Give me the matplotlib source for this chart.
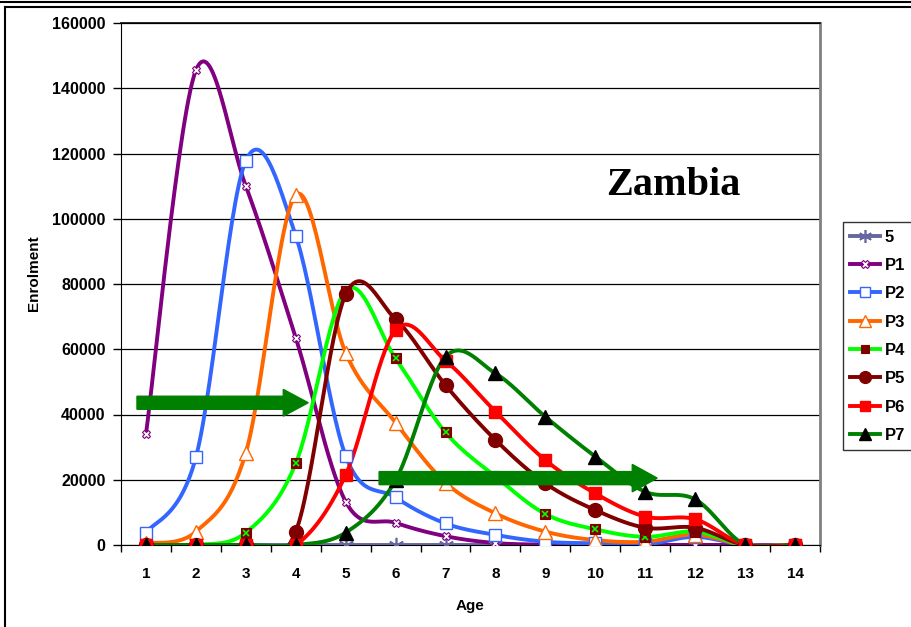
import numpy as np
import matplotlib
matplotlib.use("Agg")
import matplotlib.pyplot as plt
from matplotlib.patches import FancyArrow
from matplotlib.lines import Line2D

plt.rcParams['font.family'] = ['Liberation Sans', 'DejaVu Sans']

ages = np.arange(1, 15)
s5 = [0, 0, 0, 0, 0, 0, 0, 0, 0, 0, 0, 0, 0, 0]
p1 = [34000, 145500, 110000, 63500, 13300, 6800, 2700, 600, 100, 0, 0, 0, 0, 0]
p2 = [3700, 26900, 117800, 94800, 27300, 14600, 6600, 3100, 1000, 500, 200, 2500, 0, 0]
p3 = [500, 4100, 28300, 107300, 58900, 37500, 19100, 9700, 4100, 1500, 1000, 3200, 0, 0]
p4 = [0, 0, 3800, 25000, 78000, 57200, 34500, 21000, 9500, 4800, 2500, 4100, 0, 0]
p5 = [0, 0, 0, 4100, 76800, 69200, 49000, 32200, 18900, 10700, 5300, 5300, 0, 0]
p6 = [0, 0, 0, 0, 21500, 65900, 56500, 40900, 26000, 15800, 8700, 7900, 0, 0]
p7 = [0, 0, 0, 0, 3800, 19900, 57700, 52600, 39300, 27100, 16300, 14000, 0, 0]
labels = ['5', 'P1', 'P2', 'P3', 'P4', 'P5', 'P6', 'P7']
yticks = np.arange(0, 160001, 20000)


def smooth(x, y, n=30):
    # Excel-style bezier smoothing through the points
    x = np.asarray(x, float)
    y = np.asarray(y, float)
    px = np.concatenate([[x[0]], x, [x[-1]]])
    py = np.concatenate([[y[0]], y, [y[-1]]])
    xs, ys = [], []
    t = np.linspace(0, 1, n)
    for i in range(1, len(px) - 2):
        x0, x1, x2, x3 = px[i - 1], px[i], px[i + 1], px[i + 2]
        y0, y1, y2, y3 = py[i - 1], py[i], py[i + 1], py[i + 2]
        c1x, c1y = x1 + (x2 - x0) / 6, y1 + (y2 - y0) / 6
        c2x, c2y = x2 - (x3 - x1) / 6, y2 - (y3 - y1) / 6
        bx = (1 - t) ** 3 * x1 + 3 * (1 - t) ** 2 * t * c1x + 3 * (1 - t) * t ** 2 * c2x + t ** 3 * x2
        by = (1 - t) ** 3 * y1 + 3 * (1 - t) ** 2 * t * c1y + 3 * (1 - t) * t ** 2 * c2y + t ** 3 * y2
        xs.append(bx)
        ys.append(by)
    return np.concatenate(xs), np.concatenate(ys)


fig = plt.figure(figsize=(9.12, 6.27), dpi=100)
ax = fig.add_axes([121 / 912, 82 / 627, 699 / 912, 522 / 627])

styles = [
    dict(color='#6666A0', marker=(6, 2, 0), mfc='#6666A0', mec='#6666A0', ms=11, mew=1.2),
    dict(color='#800080', marker='X', mfc='white', mec='#800080', ms=6, mew=0.8),
    dict(color='#3366FF', marker='s', mfc='white', mec='#3366FF', ms=9, mew=1.0),
    dict(color='#FF6600', marker='^', mfc='white', mec='#FF6600', ms=10, mew=1.0),
    dict(color='#00FF00', marker='s', mfc='#800000', mec='#800000', ms=7, mew=0.8),
    dict(color='#800000', marker='o', mfc='#800000', mec='#800000', ms=10, mew=1.0),
    dict(color='#FF0000', marker='s', mfc='#FF0000', mec='#FF0000', ms=8, mew=1.0),
    dict(color='#008000', marker='^', mfc='black', mec='black', ms=10, mew=1.0),
]
series = [s5, p1, p2, p3, p4, p5, p6, p7]

handles = []
for vals, st, lab in zip(series, styles, labels):
    sx, sy = smooth(ages, vals)
    ax.plot(sx, sy, color=st['color'], lw=2.8, zorder=3, solid_capstyle='round')
    ax.plot(ages, vals, ls='none', marker=st['marker'], ms=st['ms'], mfc=st['mfc'],
            mec=st['mec'], mew=st['mew'], zorder=4)
    if lab == 'P4':
        ax.plot(ages, vals, ls='none', marker='x', ms=5, mec='#00FF00', mew=1.2, zorder=4)
    handles.append(Line2D([], [], color=st['color'], lw=2.8, marker=st['marker'], ms=st['ms'] * 0.85,
                          mfc=st['mfc'], mec=st['mec'], mew=st['mew']))

# arrows
ax.add_patch(FancyArrow(0.82, 43600, 3.43, 0, width=4000, head_width=8200, head_length=0.5,
                        length_includes_head=True, color='#008000', zorder=5))
ax.add_patch(FancyArrow(5.67, 20500, 5.57, 0, width=4000, head_width=8400, head_length=0.5,
                        length_includes_head=True, color='#008000', zorder=5))

ax.text(11.56, 107300, 'Zambia', family=['Liberation Serif', 'DejaVu Serif'], fontsize=29,
        fontweight='bold', ha='center', va='baseline')

ax.set_xlim(0.5, 14.5)
ax.set_ylim(0, 160000)
ax.set_yticks(yticks)
ax.set_yticklabels([str(v) for v in yticks], fontsize=11.5, fontweight='bold')
ax.set_xticks(np.arange(0.5, 14.6, 1))
ax.set_xticklabels([])
ax.set_xticks(ages, minor=True)
ax.set_xticklabels([str(a) for a in ages], minor=True, fontsize=11, fontweight='bold')
ax.tick_params(axis='x', which='major', direction='out', length=5, width=1)
ax.tick_params(axis='x', which='minor', length=0, pad=16)
ax.tick_params(axis='y', direction='out', length=6, width=1, pad=5)
ax.grid(axis='y', color='black', lw=0.9)
ax.set_axisbelow(True)
ax.spines['right'].set_color('#808080')
ax.spines['right'].set_linewidth(2)
ax.spines['top'].set_linewidth(1.2)
ax.set_xlabel('Age', fontsize=11, fontweight='bold', labelpad=13)
ax.set_ylabel('Enrolment', fontsize=11, fontweight='bold')
ax.yaxis.set_label_coords(-0.115, 0.52)

leg = fig.legend(handles, labels, loc='upper left', bbox_to_anchor=(843 / 912, 1 - 222 / 627),
                 prop=dict(weight='bold', size=12), frameon=True, fancybox=False,
                 handlelength=1.8, labelspacing=0.8, borderpad=0.45, handletextpad=0.25,
                 borderaxespad=0)
leg.get_frame().set_edgecolor('black')
leg.get_frame().set_linewidth(1)

# outer frame lines
fig.add_artist(Line2D([0, 1], [1 - 1.5 / 627, 1 - 1.5 / 627], color='black', lw=1.5))
fig.add_artist(Line2D([5 / 912, 1], [1 - 7 / 627, 1 - 7 / 627], color='black', lw=1.5))
fig.add_artist(Line2D([5 / 912, 5 / 912], [0, 1 - 7 / 627], color='black', lw=1.5))

fig.savefig('out.png', dpi=100)
